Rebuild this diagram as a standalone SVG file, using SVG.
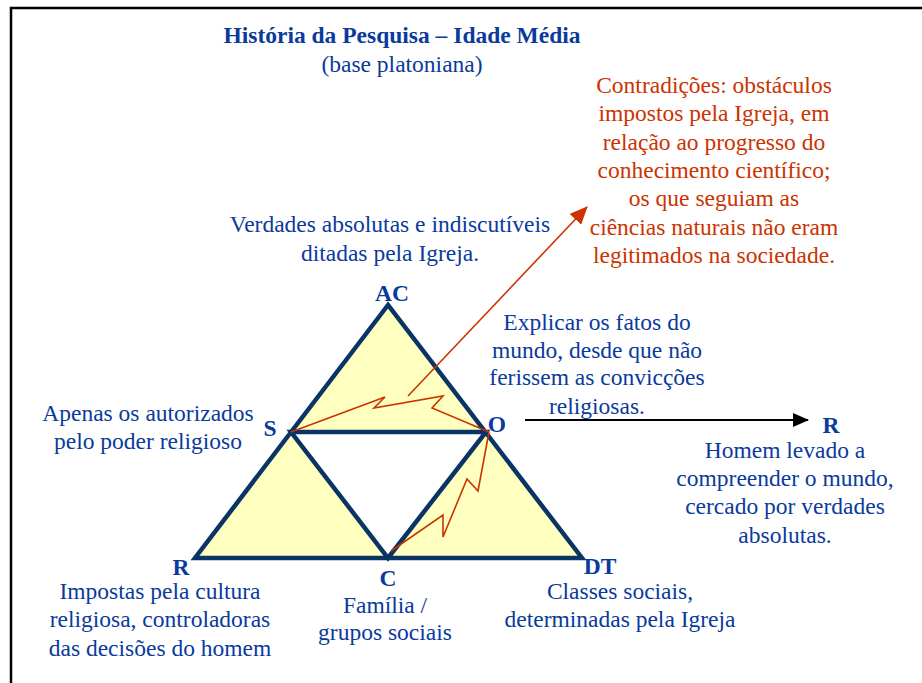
<svg xmlns="http://www.w3.org/2000/svg" width="922" height="683" viewBox="0 0 922 683">
<style>
text{font-family:"Liberation Serif","Times New Roman",serif;font-size:23.5px}
.b{fill:#0a3a9c}
.r{fill:#cc3300}
.h{font-weight:bold}
.m{text-anchor:middle}
.tri{fill:#ffffc0;stroke:#0a3466;stroke-width:4.5;stroke-linejoin:miter}
.in{fill:#ffffff;stroke:#0a3466;stroke-width:4.5}
.z{fill:none;stroke:#cc3300;stroke-width:1.6}
</style>
<defs>
<marker id="ar" markerWidth="18" markerHeight="16" refX="17" refY="8" orient="auto" markerUnits="userSpaceOnUse">
<path d="M0,0 L18,8 L0,16 z" fill="#cc3300"/>
</marker>
<marker id="ak" markerWidth="16" markerHeight="14" refX="15" refY="7" orient="auto" markerUnits="userSpaceOnUse">
<path d="M0,0 L16,7 L0,14 z" fill="#000"/>
</marker>
</defs>
<rect width="922" height="683" fill="#fff"/>
<path d="M11,700 V8 H930" fill="none" stroke="#000" stroke-width="2.5"/>
<g id="title">
<text class="b h m" x="402" y="43">História da Pesquisa – Idade Média</text>
<text class="b m" x="402" y="72">(base platoniana)</text>
</g>
<g id="triangle">
<polygon class="tri" points="388,305 195,558 582,558"/>
<polygon class="in" points="291,432 486,432 388,558"/>
</g>
<g id="connectors">
<polyline class="z" points="291,432 385,397 374,408 443,396 432,408 489,432"/>
<polyline class="z" points="489,432 478,491 467,479 443,537 443,515 391,551"/>
<line class="z" x1="408" y1="396" x2="587" y2="207" marker-end="url(#ar)" stroke-width="2"/>
<line x1="525" y1="420" x2="808" y2="420" stroke="#000" stroke-width="1.8" marker-end="url(#ak)"/>
</g>
<g id="contradicoes">
<text class="r m" x="714" y="93">Contradições: obstáculos</text>
<text class="r m" x="714" y="121">impostos pela Igreja, em</text>
<text class="r m" x="714" y="150">relação ao progresso do</text>
<text class="r m" x="714" y="178">conhecimento científico;</text>
<text class="r m" x="714" y="206">os que seguiam as</text>
<text class="r m" x="714" y="235">ciências naturais não eram</text>
<text class="r m" x="714" y="263">legitimados na sociedade.</text>
</g>
<g id="AC">
<text class="b m" x="390" y="232">Verdades absolutas e indiscutíveis</text>
<text class="b m" x="390" y="261">ditadas pela Igreja.</text>
<text class="b h m" x="392" y="301">AC</text>
</g>
<g id="O">
<text class="b m" x="597" y="330">Explicar os fatos do</text>
<text class="b m" x="597" y="358">mundo, desde que não</text>
<text class="b m" x="597" y="385">ferissem as convicções</text>
<text class="b m" x="597" y="414">religiosas.</text>
<text class="b h m" x="497" y="432">O</text>
</g>
<g id="S">
<text class="b m" x="148" y="421">Apenas os autorizados</text>
<text class="b m" x="148" y="449">pelo poder religioso</text>
<text class="b h m" x="270" y="436">S</text>
</g>
<g id="Rright">
<text class="b h m" x="831" y="433">R</text>
<text class="b m" x="785" y="458">Homem levado a</text>
<text class="b m" x="785" y="486">compreender o mundo,</text>
<text class="b m" x="785" y="514">cercado por verdades</text>
<text class="b m" x="785" y="543">absolutas.</text>
</g>
<g id="R">
<text class="b h m" x="181" y="575">R</text>
<text class="b m" x="160" y="599">Impostas pela cultura</text>
<text class="b m" x="160" y="627">religiosa, controladoras</text>
<text class="b m" x="160" y="656">das decisões do homem</text>
</g>
<g id="C">
<text class="b h m" x="388" y="586">C</text>
<text class="b m" x="385" y="613">Família /</text>
<text class="b m" x="385" y="640">grupos sociais</text>
</g>
<g id="DT">
<text class="b h m" x="600" y="574">DT</text>
<text class="b m" x="620" y="599">Classes sociais,</text>
<text class="b m" x="620" y="627">determinadas pela Igreja</text>
</g>
</svg>
